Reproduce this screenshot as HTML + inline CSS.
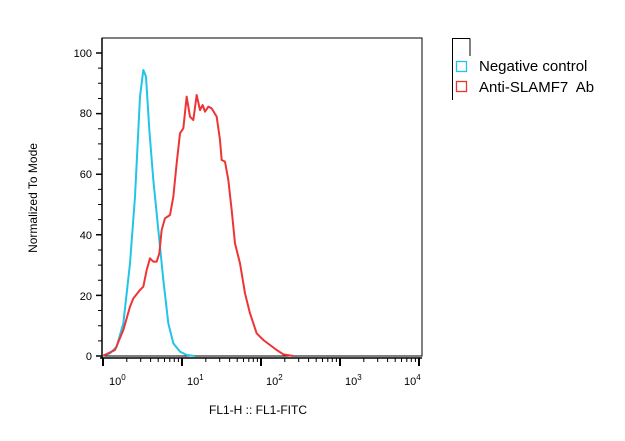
<!DOCTYPE html><html><head><style>body{margin:0;background:#fff}svg{display:block}</style></head><body>
<svg width="625" height="441" viewBox="0 0 625 441" xmlns="http://www.w3.org/2000/svg" font-family="Liberation Sans, sans-serif">
<rect x="102" y="38" width="320" height="318" fill="none" stroke="#000" stroke-width="1"/>
<g stroke="#000" stroke-width="1.5">
<line x1="102" y1="38" x2="102" y2="358"/>
<line x1="100" y1="358" x2="422" y2="358"/>
</g>
<g stroke="#000" stroke-width="1.5">
<path d="M96 356H102M96 295.4H102M96 234.8H102M96 174.2H102M96 113.6H102M96 53H102"/>
</g>
<g stroke="#000" stroke-width="1">
<path d="M98 340.85H102M98 325.7H102M98 310.55H102M98 280.25H102M98 265.1H102M98 249.95H102M98 219.65H102M98 204.5H102M98 189.35H102M98 159.05H102M98 143.9H102M98 128.75H102M98 98.45H102M98 83.3H102M98 68.15H102"/>
</g>
<g stroke="#000" stroke-width="2">
<path d="M103 358V366M182 358V366M261 358V366M340 358V366M419 358V366"/>
</g>
<g stroke="#000" stroke-width="1">
<path d="M126.8 358v4M140.7 358v4M150.6 358v4M158.2 358v4M164.5 358v4M169.8 358v4M174.3 358v4M178.4 358v4
M205.8 358v4M219.7 358v4M229.6 358v4M237.2 358v4M243.5 358v4M248.8 358v4M253.3 358v4M257.4 358v4
M284.8 358v4M298.7 358v4M308.6 358v4M316.2 358v4M322.5 358v4M327.8 358v4M332.3 358v4M336.4 358v4
M363.8 358v4M377.7 358v4M387.6 358v4M395.2 358v4M401.5 358v4M406.8 358v4M411.3 358v4M415.4 358v4"/>
</g>
<g font-size="11" fill="#000" text-anchor="end">
<text x="92" y="57">100</text><text x="92" y="117">80</text><text x="92" y="178">60</text><text x="92" y="239">40</text><text x="92" y="300">20</text><text x="92" y="360">0</text>
</g>
<g font-size="11" fill="#000">
<text x="109" y="385">10<tspan dy="-5" font-size="8">0</tspan></text>
<text x="187" y="385">10<tspan dy="-5" font-size="8">1</tspan></text>
<text x="266" y="385">10<tspan dy="-5" font-size="8">2</tspan></text>
<text x="345" y="385">10<tspan dy="-5" font-size="8">3</tspan></text>
<text x="404" y="385">10<tspan dy="-5" font-size="8">4</tspan></text>
</g>
<text x="258" y="414" font-size="12" text-anchor="middle">FL1-H :: FL1-FITC</text>
<text transform="translate(37 198) rotate(-90)" font-size="12" text-anchor="middle">Normalized To Mode</text>
<g transform="translate(60 30) scale(0.33333)" fill="none" stroke-width="6" stroke-linejoin="round">
<path stroke="#22c4e8" d="M128,977 L150,970 L170,950 L190,880 L210,700 L225,500 L240,200 L250,120 L258,140 L268,300 L280,450 L295,600 L310,750 L325,880 L340,940 L360,965 L380,975 L405,978"/>
<path stroke="#ee3535" d="M130,977 L165,960 L190,900 L210,830 L220,805 L240,780 L250,770 L260,720 L270,685 L280,695 L290,695 L298,670 L305,600 L315,565 L330,555 L340,500 L350,400 L360,310 L370,295 L380,200 L390,260 L400,270 L410,195 L420,240 L428,225 L435,245 L445,230 L455,235 L470,260 L480,330 L485,390 L495,395 L505,450 L515,540 L525,640 L540,700 L555,790 L570,850 L590,910 L610,930 L630,945 L650,960 L670,973 L700,978"/>
</g>
<g stroke="#000" fill="none">
<path d="M452.5 38 V100 M452.5 38.5 H470 M470 38.5 V56"/>
<rect x="456.5" y="61.5" width="10" height="10" stroke="#22c4e8" stroke-width="1.3"/>
<rect x="456.5" y="81.5" width="10" height="10" stroke="#ee3535" stroke-width="1.3"/>
</g>
<text x="479" y="71" font-size="15">Negative control</text>
<text x="479" y="92" font-size="15">Anti-SLAMF7&#160; Ab</text>
</svg></body></html>
